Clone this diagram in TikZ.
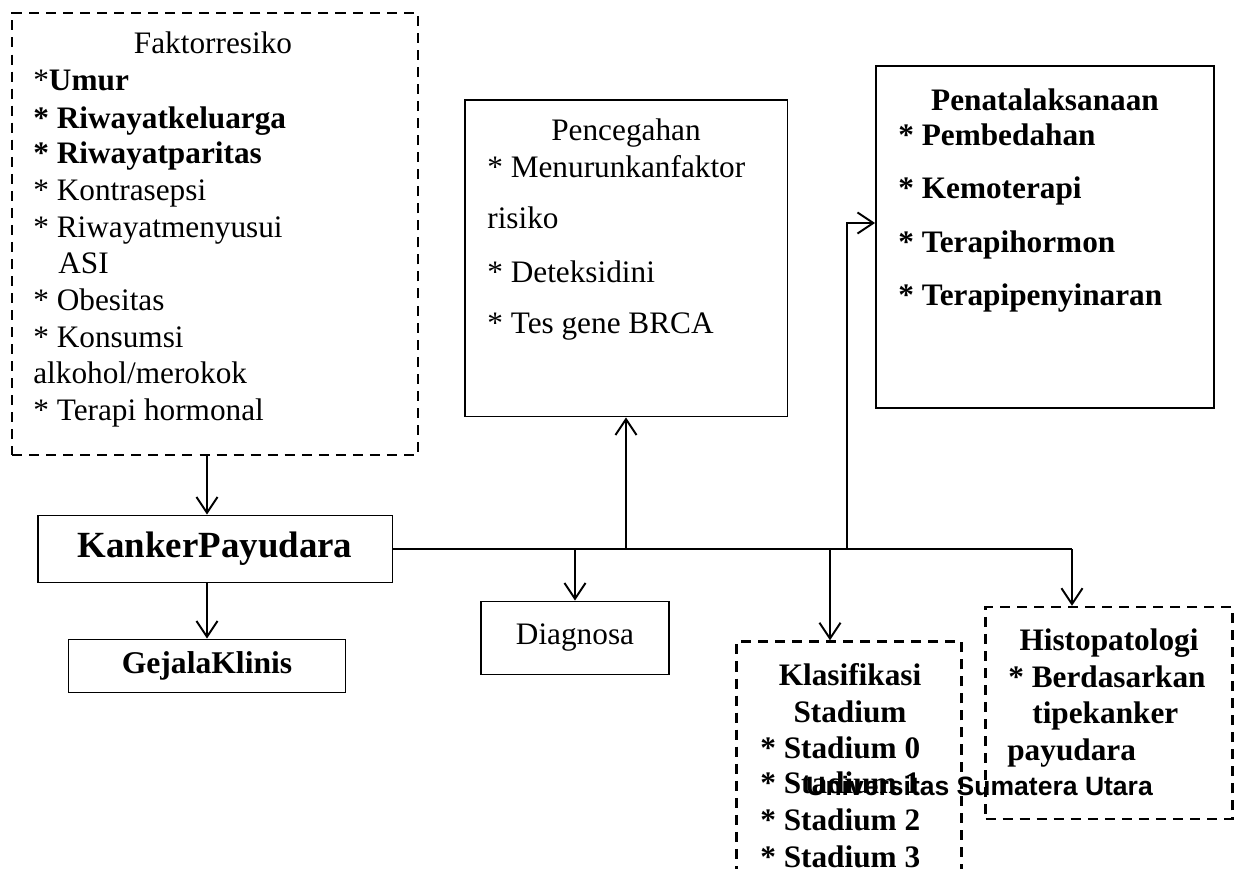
\documentclass[tikz,border=0pt]{standalone}
\usepackage{fontspec}
\setmainfont{Liberation Serif}
\newfontfamily\wmfont{Liberation Sans}
\usetikzlibrary{arrows.meta}

\begin{document}
\begin{tikzpicture}[x=0.02cm,y=-0.02cm,
  box/.style={draw,line width=1.1pt,inner sep=0pt},
  dbox/.style={box,line width=1.4pt,dash pattern=on 5.7pt off 4pt},
  ln/.style={anchor=base west,inner sep=0pt,font=\fontsize{17.8}{21}\selectfont},
  hd/.style={anchor=base,inner sep=0pt,font=\fontsize{17.8}{21}\selectfont},
  arr/.style={line width=1.1pt,-{Straight Barb[length=9pt,width=12pt]}}]
\useasboundingbox (0,0) rectangle (1242,869);
\clip (0,0) rectangle (1242,869);

% boxes
\node[dbox,minimum width=8.12cm,minimum height=8.84cm] (faktor) at (215,234) {};
\node[box,minimum width=7.1cm,minimum height=1.34cm,font=\fontsize{21}{25}\selectfont\bfseries] (kanker) at (215,549) {KankerPayudara};
\node[box,minimum width=5.54cm,minimum height=1.06cm,font=\fontsize{18}{21}\selectfont\bfseries] (gejala) at (207,666) {GejalaKlinis};
\node[box,minimum width=3.76cm,minimum height=1.46cm,font=\fontsize{17.8}{21}\selectfont] (diagnosa) at (575,638) {Diagnosa};
\node[box,minimum width=6.46cm,minimum height=6.34cm] (pencegahan) at (626,258) {};
\node[box,minimum width=6.76cm,minimum height=6.84cm] (penata) at (1045,237) {};
\node[dbox,minimum width=4.5cm,minimum height=5.26cm] (klasifikasi) at (849,773) {};
\node[dbox,minimum width=4.94cm,minimum height=4.24cm] (histo) at (1109,713) {};

% Faktorresiko
\node[hd] (f0) at (213,53) {Faktorresiko};
\node[ln] (f1) at (33,90) {*\textbf{Umur}};
\node[ln] (f2) at (33,128) {\bfseries * Riwayatkeluarga};
\node[ln] (f3) at (33,163) {\bfseries * Riwayatparitas};
\node[ln] (f4) at (33,200) {* Kontrasepsi};
\node[ln] (f5) at (33,237) {* Riwayatmenyusui};
\node[ln] (f6) at (58,273) {ASI};
\node[ln] (f7) at (33,310) {* Obesitas};
\node[ln] (f8) at (33,347) {* Konsumsi};
\node[ln] (f9) at (33,383) {alkohol/merokok};
\node[ln] (f10) at (33,420) {* Terapi hormonal};

% Pencegahan
\node[hd] (p0) at (626,140) {Pencegahan};
\node[ln] (p1) at (487,177) {* Menurunkanfaktor};
\node[ln] (p2) at (487,228) {risiko};
\node[ln] (p3) at (487,282) {* Deteksidini};
\node[ln] (p4) at (487,333) {* Tes gene BRCA};

% Penatalaksanaan
\node[hd,font=\fontsize{17.8}{21}\selectfont\bfseries] (t0) at (1045,110) {Penatalaksanaan};
\node[ln,font=\fontsize{17.8}{21}\selectfont\bfseries] (t1) at (898,145) {* Pembedahan};
\node[ln,font=\fontsize{17.8}{21}\selectfont\bfseries] (t2) at (898,198) {* Kemoterapi};
\node[ln,font=\fontsize{17.8}{21}\selectfont\bfseries] (t3) at (898,252) {* Terapihormon};
\node[ln,font=\fontsize{17.8}{21}\selectfont\bfseries] (t4) at (898,305) {* Terapipenyinaran};

% Klasifikasi
\node[hd,font=\fontsize{17.8}{21}\selectfont\bfseries] (k0) at (850,685) {Klasifikasi};
\node[hd,font=\fontsize{17.8}{21}\selectfont\bfseries] (k1) at (850,722) {Stadium};
\node[ln,font=\fontsize{17.8}{21}\selectfont\bfseries] (k2) at (760,758) {* Stadium 0};
\node[ln,font=\fontsize{17.8}{21}\selectfont\bfseries] (k3) at (760,793) {* Stadium 1};
\node[ln,font=\fontsize{17.8}{21}\selectfont\bfseries] (k4) at (760,830) {* Stadium 2};
\node[ln,font=\fontsize{17.8}{21}\selectfont\bfseries] (k5) at (760,867) {* Stadium 3};

% Histopatologi
\node[hd,font=\fontsize{17.8}{21}\selectfont\bfseries] (h0) at (1109,650) {Histopatologi};
\node[ln,font=\fontsize{17.8}{21}\selectfont\bfseries] (h1) at (1008,687) {* Berdasarkan};
\node[ln,font=\fontsize{17.8}{21}\selectfont\bfseries] (h2) at (1032,723) {tipekanker};
\node[ln,font=\fontsize{17.8}{21}\selectfont\bfseries] (h3) at (1007,760) {payudara};

\node[ln,font=\wmfont\fontsize{15.1}{18}\selectfont\bfseries] (wm) at (806,795) {Universitas Sumatera Utara};

% connectors
\coordinate (ps) at (847,549);
\coordinate (ks) at (830,549);
\coordinate (hs) at (1072,549);
\draw[arr] (faktor.south -| gejala) -- (kanker.north -| gejala);
\draw[arr] (kanker.south -| gejala) -- (gejala.north);
\draw[line width=1.1pt] (kanker.east) -- (hs);
\draw[arr] (kanker.east -| diagnosa) -- (diagnosa.north);
\draw[arr] (kanker.east -| pencegahan) -- (pencegahan.south);
\draw[arr] (ps) |- ([yshift=0.28cm]penata.west);
\draw[arr] (ks) -- (ks |- klasifikasi.north);
\draw[arr] (hs) -- (hs |- histo.north);
\end{tikzpicture}
\end{document}
